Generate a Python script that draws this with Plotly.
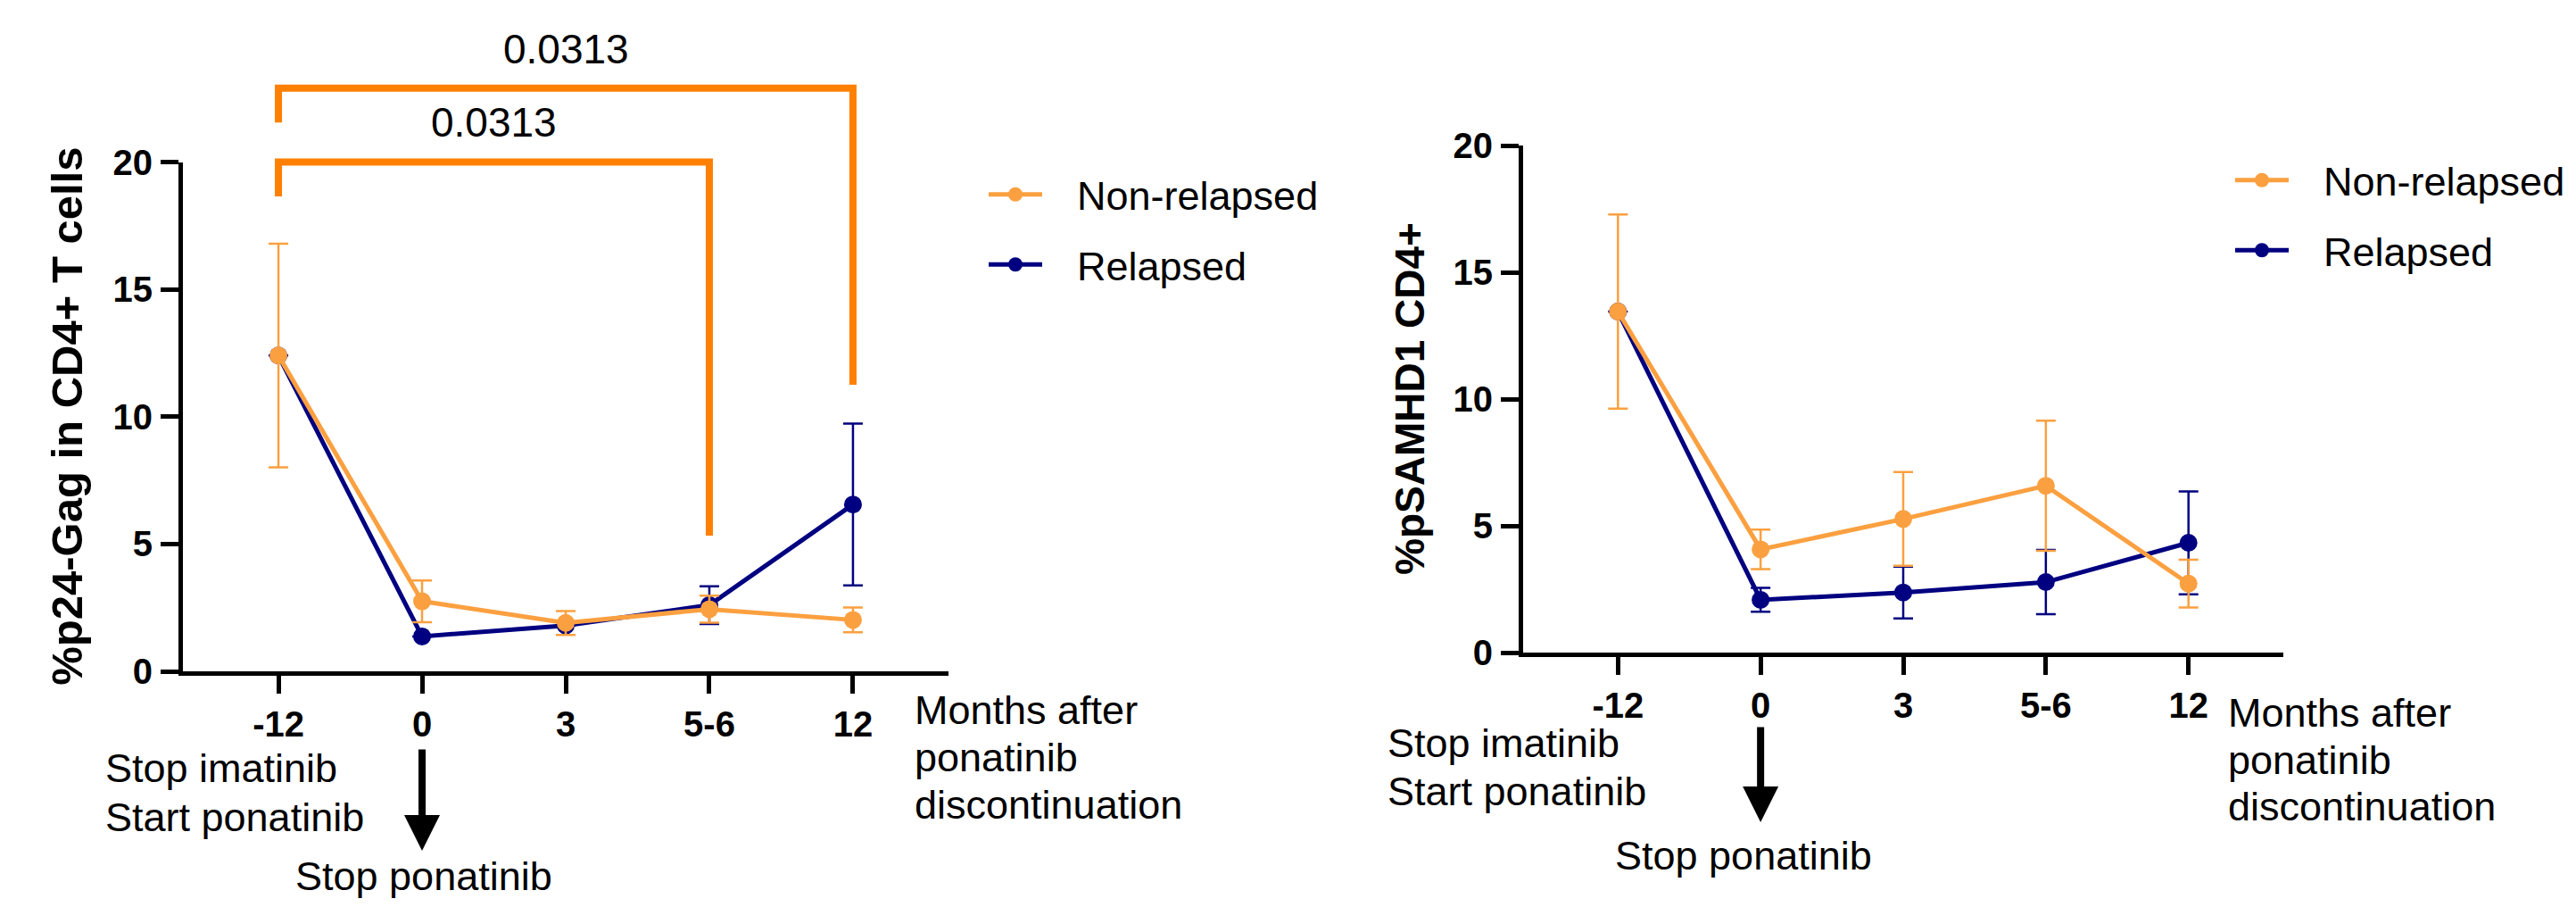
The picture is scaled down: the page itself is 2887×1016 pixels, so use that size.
import plotly.graph_objects as go

W, H = 2887, 1016
OFF = 8  # page body margin of the html page (figure is drawn 8px in)

# ---------------- data ----------------
months = ["-12", "0", "3", "5-6", "12"]

# Left panel: %p24-Gag in CD4+ T cells (mean ± error)
p24_nonrel = [12.4, 2.75, 1.9, 2.44, 2.02]
p24_nonrel_err = [4.39, 0.82, 0.47, 0.53, 0.49]
p24_rel = [12.4, 1.37, 1.8, 2.6, 6.55]
p24_rel_err = [None, None, None, 0.74, 3.18]

# Right panel: %pSAMHD1 CD4+
samhd_nonrel = [13.45, 4.07, 5.27, 6.58, 2.72]
samhd_nonrel_err = [3.83, 0.78, 1.85, 2.57, 0.94]
samhd_rel = [13.45, 2.08, 2.37, 2.78, 4.33]
samhd_rel_err = [None, 0.47, 1.02, 1.27, 2.03]

series_names = ["Non-relapsed", "Relapsed"]

# significance brackets (left panel, Non-relapsed comparisons)
bracket_from = ["-12", "-12"]
bracket_to = ["5-6", "12"]
bracket_top = [20.0, 22.9]
bracket_left_end = [18.65, 21.55]
bracket_right_end = [5.33, 11.25]
bracket_label = ["0.0313", "0.0313"]
bracket_label_y = [21.55, 24.45]

y_ticks = [0, 5, 10, 15, 20]

# ---------------- styles ----------------
ORANGE = "#FBA040"
NAVY = "#000080"
BRACKET = "#FF8000"
FONT = "Liberation Sans, Arial, Helvetica, sans-serif"
LEGEND_PAD = "\u00a0\u00a0\u2009"  # small gap between legend symbol and label


def pxx(p):
    return (p - OFF) / W


def pxy(p):
    return 1 - (p - OFF) / H


fig = go.Figure()


def add_series(xa, ya, vals, errs, color, name, legend, rank):
    fig.add_trace(go.Scatter(
        x=months, y=vals, xaxis=xa, yaxis=ya, name=LEGEND_PAD + name,
        mode="lines+markers",
        line=dict(color=color, width=5),
        marker=dict(color=color, size=20),
        error_y=dict(type="data", array=errs, visible=True, color=color,
                     thickness=2.5, width=11),
        legend=legend, legendgroup=name + legend, legendrank=rank,
        showlegend=True, cliponaxis=False,
    ))


# relapsed first (underneath), non-relapsed on top
add_series("x", "y", p24_rel, p24_rel_err, NAVY, series_names[1], "legend", 2)
add_series("x", "y", p24_nonrel, p24_nonrel_err, ORANGE, series_names[0], "legend", 1)
add_series("x2", "y2", samhd_rel, samhd_rel_err, NAVY, series_names[1], "legend2", 2)
add_series("x2", "y2", samhd_nonrel, samhd_nonrel_err, ORANGE, series_names[0], "legend2", 1)

# brackets on an overlay subplot sharing the left panel's scales
for f, t, top, le, re in zip(bracket_from, bracket_to, bracket_top,
                             bracket_left_end, bracket_right_end):
    fig.add_trace(go.Scatter(
        x=[f, f, t, t], y=[le, top, top, re], xaxis="x3", yaxis="y3",
        mode="lines", line=dict(color=BRACKET, width=8),
        showlegend=False, hoverinfo="skip",
    ))

annotations = []
for f, t, lab, ly in zip(bracket_from, bracket_to, bracket_label, bracket_label_y):
    mid = (months.index(f) + months.index(t)) / 2
    annotations.append(dict(
        x=mid, y=ly, xref="x3", yref="y3", text=lab, showarrow=False,
        font=dict(family=FONT, size=46, color="black"),
        xanchor="center", yanchor="middle"))

# ---------------- axes ----------------
xrange = [-0.665, 4.665]
axis_common = dict(
    showline=True, linecolor="black", linewidth=5,
    ticks="outside", ticklen=20, tickwidth=5, tickcolor="black",
    showgrid=False, zeroline=False, automargin=False,
    tickfont=dict(family=FONT, size=40, color="black", weight="bold"),
)

L_y0, L_y20 = 752, 181.5
R_y0, R_y20 = 731, 163

legend_common = dict(
    xanchor="left", yanchor="top",
    font=dict(family=FONT, size=45, color="black"),
    bgcolor="rgba(0,0,0,0)", traceorder="grouped",
    tracegroupgap=17, itemwidth=60,
)

layout = dict(
    width=W, height=H, autosize=False,
    margin=dict(l=0, r=0, t=0, b=0, pad=0, autoexpand=False),
    paper_bgcolor="white", plot_bgcolor="rgba(0,0,0,0)",
    xaxis=dict(domain=[pxx(205), pxx(1063)], type="category",
               categoryorder="array", categoryarray=months,
               range=xrange, anchor="y", **axis_common),
    yaxis=dict(domain=[pxy(L_y0), pxy(L_y20)], range=[0, 20],
               tickvals=y_ticks, anchor="x", ticklabelstandoff=1,
               **axis_common),
    xaxis2=dict(domain=[pxx(1707), pxx(2559)], type="category",
                categoryorder="array", categoryarray=months,
                range=xrange, anchor="y2", **axis_common),
    yaxis2=dict(domain=[pxy(R_y0), pxy(R_y20)], range=[0, 20],
                tickvals=y_ticks, anchor="x2", ticklabelstandoff=1,
                **axis_common),
    xaxis3=dict(domain=[pxx(205), pxx(1063)], type="category",
                categoryorder="array", categoryarray=months,
                range=xrange, anchor="y3", visible=False),
    yaxis3=dict(domain=[pxy(L_y0), 1.0],
                range=[0, 20 * (L_y0 - OFF) / (L_y0 - L_y20)],
                anchor="x3", visible=False),
    legend=dict(x=pxx(1103), y=pxy(182), **legend_common),
    legend2=dict(x=pxx(2500), y=pxy(166), **legend_common),
    showlegend=True,
)

# y-axis titles
annotations.append(dict(
    x=pxx(75), y=pxy((L_y0 + L_y20) / 2), xref="paper", yref="paper",
    text="%p24-Gag in CD4+ T cells", textangle=-90, showarrow=False,
    font=dict(family=FONT, size=49, color="black", weight="bold"),
    xanchor="center", yanchor="middle"))
annotations.append(dict(
    x=pxx(1580), y=pxy((R_y0 + R_y20) / 2), xref="paper", yref="paper",
    text="%pSAMHD1 CD4+", textangle=-90, showarrow=False,
    font=dict(family=FONT, size=46, color="black", weight="bold"),
    xanchor="center", yanchor="middle"))


def text_line(x, y, s, anchor="left"):
    annotations.append(dict(
        x=pxx(x), y=pxy(y - 3), xref="paper", yref="paper", text=s,
        showarrow=False, font=dict(family=FONT, size=45, color="black"),
        xanchor=anchor, yanchor="middle"))


# left panel texts
text_line(1023, 798, "Months after")
text_line(1023, 851, "ponatinib")
text_line(1023, 904, "discontinuation")
text_line(116, 863, "Stop imatinib")
text_line(116, 918, "Start ponatinib")
text_line(475, 984, "Stop ponatinib", "center")
# right panel texts
text_line(2495, 801, "Months after")
text_line(2495, 854, "ponatinib")
text_line(2495, 906, "discontinuation")
text_line(1553, 835, "Stop imatinib")
text_line(1553, 889, "Start ponatinib")
text_line(1954, 961, "Stop ponatinib", "center")

# arrows at month 0
stop_idx = months.index("0")
annotations.append(dict(
    x=stop_idx, y=pxy(953), xref="x", yref="paper", text="",
    showarrow=True, arrowhead=2, arrowsize=1, arrowwidth=8,
    arrowcolor="black", ax=0, ay=-115, standoff=0))
annotations.append(dict(
    x=stop_idx, y=pxy(921), xref="x2", yref="paper", text="",
    showarrow=True, arrowhead=2, arrowsize=1, arrowwidth=8,
    arrowcolor="black", ax=0, ay=-108, standoff=0))

layout["annotations"] = annotations
fig.update_layout(**layout)

fig.write_html("out.html")
